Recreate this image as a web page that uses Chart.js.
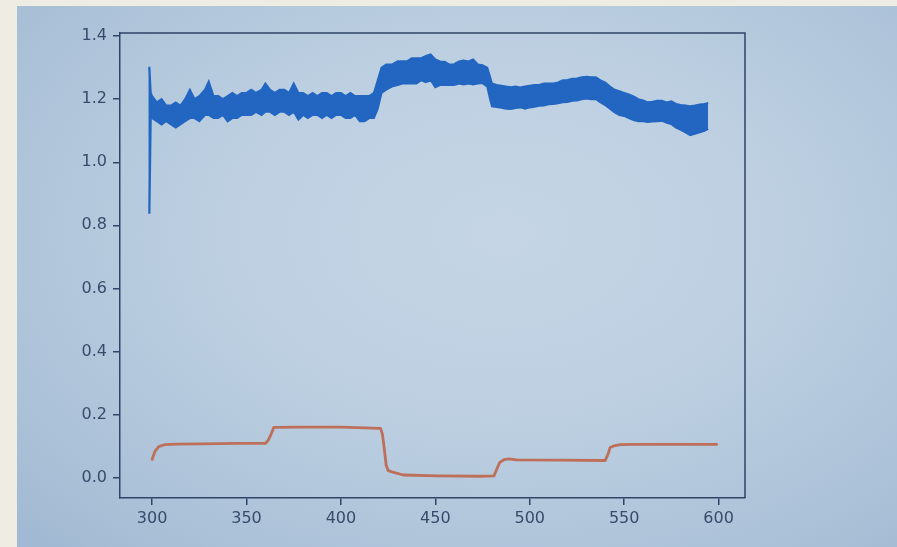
<!DOCTYPE html>
<html>
<head>
<meta charset="utf-8">
<script src="https://cdn.jsdelivr.net/npm/chart.js"></script>
<style>
  html, body { margin: 0; padding: 0; }
  body { width: 897px; height: 547px; background: #efece3; position: relative; overflow: hidden; }
  #screen { position: absolute; left: 17px; top: 6px; right: 0; bottom: 0;
    background: radial-gradient(ellipse 75% 80% at 55% 42%, #c5d5e5 0%, #bccfe1 45%, #aac0d7 85%, #a1b9d2 100%); }
  #c { position: absolute; left: 0; top: 0; }
</style>
</head>
<body>
<div id="screen"></div>
<canvas id="c" width="897" height="547"></canvas>
<script>
// ---- data ----
const xTickValues = [300, 350, 400, 450, 500, 550, 600];
const yTickValues = [0.0, 0.2, 0.4, 0.6, 0.8, 1.0, 1.2, 1.4];

// blue noisy series: upper and lower envelope of the band
const blueX = [298, 298.6, 299.3, 300, 302.5, 305, 307.5, 310, 312.5, 315, 317.5, 320, 322.5, 325, 328, 330, 332.5, 335, 337.5, 340, 342.5, 345, 347.5, 350, 352.5, 355, 358, 360, 362.5, 365, 367.5, 370, 372.5, 375, 377.5, 380, 382.5, 385, 387.5, 390, 392.5, 395, 397.5, 400, 402.5, 405, 407.5, 410, 412.5, 415, 417.5, 419.5, 421.5, 424, 427, 430, 432.5, 435, 437.5, 440, 442.5, 445, 447.5, 450, 452.5, 455, 457.5, 460, 462.5, 465, 467.5, 470, 472.5, 475, 477.5, 479, 480, 482.5, 485, 487.5, 490, 492.5, 495, 497.5, 500, 502.5, 505, 507.5, 510, 512.5, 515, 517.5, 520, 522.5, 525, 527.5, 530, 532.5, 535, 537.5, 540, 542.5, 545, 547.5, 550, 552.5, 555, 557.5, 560, 562.5, 565, 567.5, 570, 572.5, 575, 577.5, 580, 582.5, 585, 587.5, 590, 592.5, 594.5];
const blueHigh = [1.30, 1.30, 1.22, 1.21, 1.19, 1.20, 1.18, 1.18, 1.19, 1.18, 1.20, 1.23, 1.20, 1.21, 1.23, 1.256, 1.21, 1.21, 1.20, 1.21, 1.22, 1.21, 1.22, 1.22, 1.23, 1.22, 1.23, 1.25, 1.23, 1.22, 1.23, 1.23, 1.22, 1.25, 1.22, 1.22, 1.21, 1.22, 1.21, 1.22, 1.22, 1.21, 1.22, 1.22, 1.21, 1.22, 1.21, 1.21, 1.21, 1.21, 1.22, 1.26, 1.30, 1.31, 1.31, 1.32, 1.32, 1.32, 1.33, 1.33, 1.33, 1.337, 1.342, 1.326, 1.32, 1.319, 1.31, 1.311, 1.32, 1.323, 1.32, 1.326, 1.31, 1.308, 1.30, 1.27, 1.25, 1.245, 1.243, 1.24, 1.238, 1.24, 1.237, 1.24, 1.243, 1.245, 1.245, 1.25, 1.25, 1.25, 1.253, 1.26, 1.261, 1.265, 1.266, 1.27, 1.271, 1.27, 1.27, 1.26, 1.253, 1.24, 1.23, 1.225, 1.22, 1.215, 1.209, 1.20, 1.196, 1.19, 1.192, 1.195, 1.195, 1.19, 1.193, 1.185, 1.182, 1.18, 1.178, 1.18, 1.183, 1.185, 1.188];
const blueLow = [0.84, 0.84, 1.14, 1.14, 1.13, 1.12, 1.13, 1.12, 1.11, 1.12, 1.13, 1.14, 1.14, 1.13, 1.15, 1.15, 1.14, 1.14, 1.15, 1.13, 1.14, 1.14, 1.15, 1.15, 1.15, 1.16, 1.15, 1.16, 1.16, 1.15, 1.16, 1.16, 1.15, 1.16, 1.135, 1.15, 1.14, 1.15, 1.15, 1.14, 1.15, 1.14, 1.15, 1.15, 1.14, 1.14, 1.15, 1.13, 1.13, 1.14, 1.14, 1.17, 1.22, 1.23, 1.24, 1.245, 1.25, 1.25, 1.25, 1.25, 1.26, 1.254, 1.26, 1.238, 1.245, 1.246, 1.245, 1.245, 1.25, 1.247, 1.25, 1.247, 1.25, 1.251, 1.24, 1.20, 1.177, 1.175, 1.173, 1.17, 1.169, 1.172, 1.174, 1.17, 1.174, 1.176, 1.179, 1.18, 1.184, 1.185, 1.187, 1.19, 1.191, 1.195, 1.196, 1.20, 1.202, 1.20, 1.20, 1.19, 1.181, 1.17, 1.158, 1.15, 1.147, 1.14, 1.134, 1.13, 1.13, 1.128, 1.129, 1.13, 1.132, 1.125, 1.121, 1.11, 1.103, 1.095, 1.086, 1.09, 1.095, 1.10, 1.106];

// orange/red step series
const redX = [300, 301.5, 303.5, 306.5, 313, 326, 345, 360, 361.5, 363, 364.5, 378, 400, 421, 422, 423, 424, 425, 428, 433, 451, 474, 481, 484, 486.5, 489, 493, 515, 540, 541.5, 542.6, 544.5, 548, 556, 577, 599];
const redY = [0.057, 0.083, 0.098, 0.104, 0.106, 0.107, 0.108, 0.108, 0.118, 0.137, 0.159, 0.160, 0.160, 0.156, 0.137, 0.089, 0.038, 0.022, 0.016, 0.008, 0.005, 0.004, 0.005, 0.047, 0.057, 0.059, 0.056, 0.055, 0.054, 0.075, 0.095, 0.100, 0.104, 0.105, 0.105, 0.105];

// ---- styling ----
const BLUE = '#2266c2';
const RED = '#bd6f5a';
const AXIS = '#2f4466';
const TEXT = '#384b6b';
const FONT = { family: 'DejaVu Sans', size: 16 };

const pts = (xs, ys) => xs.map((x, i) => ({ x: x, y: ys[i] }));

const frame = {
  id: 'frame',
  afterDatasetsDraw(chart) {
    const a = chart.chartArea, ctx = chart.ctx;
    ctx.save();
    ctx.strokeStyle = AXIS;
    ctx.lineWidth = 1.5;
    ctx.beginPath();
    ctx.moveTo(a.left, a.top);
    ctx.lineTo(a.right, a.top);
    ctx.lineTo(a.right, a.bottom);
    ctx.stroke();
    ctx.restore();
  }
};

new Chart(document.getElementById('c'), {
  type: 'line',
  data: {
    datasets: [
      { data: pts(blueX, blueHigh), borderColor: BLUE, backgroundColor: BLUE, borderWidth: 2, pointRadius: 0, tension: 0, fill: '+1' },
      { data: pts(blueX, blueLow), borderColor: BLUE, backgroundColor: BLUE, borderWidth: 2, pointRadius: 0, tension: 0, fill: false },
      { data: pts(redX, redY), borderColor: RED, borderWidth: 2.8, pointRadius: 0, tension: 0, fill: false, borderJoinStyle: 'round', borderCapStyle: 'round' }
    ]
  },
  plugins: [frame],
  options: {
    responsive: false,
    animation: false,
    events: [],
    layout: { padding: { left: 0, top: 33, right: 152, bottom: 19 } },
    plugins: { legend: { display: false }, tooltip: { enabled: false } },
    scales: {
      x: {
        type: 'linear', min: 283, max: 614,
        afterBuildTicks: s => { s.ticks = xTickValues.map(v => ({ value: v })); },
        afterFit: s => { s.height = 30; },
        ticks: { color: TEXT, font: FONT, padding: 4, maxRotation: 0, autoSkip: false, callback: v => String(v) },
        grid: { drawOnChartArea: false, drawTicks: true, tickLength: 7, color: AXIS, lineWidth: 1.5 },
        border: { display: true, color: AXIS, width: 1.5 }
      },
      y: {
        type: 'linear', min: -0.065, max: 1.41,
        afterBuildTicks: s => { s.ticks = yTickValues.map(v => ({ value: v })); },
        afterFit: s => { s.width = 120; },
        ticks: { color: TEXT, font: FONT, padding: 6, autoSkip: false, callback: v => Number(v).toFixed(1) },
        grid: { drawOnChartArea: false, drawTicks: true, tickLength: 7, color: AXIS, lineWidth: 1.5 },
        border: { display: true, color: AXIS, width: 1.5 }
      }
    }
  }
});
</script>
</body>
</html>
